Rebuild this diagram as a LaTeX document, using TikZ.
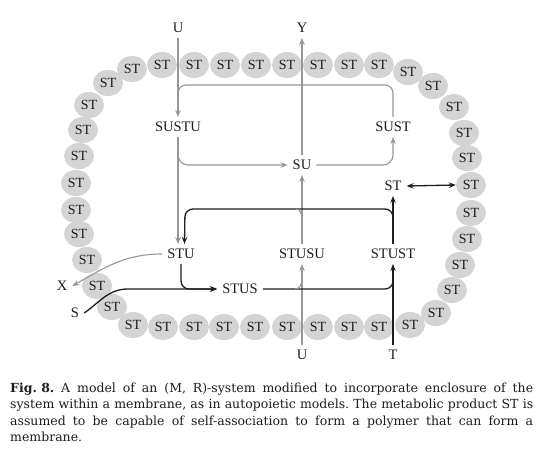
\documentclass[tikz,border=0pt]{standalone}
\usepackage{fontspec}
\setmainfont{DejaVu Serif}
\newfontfamily\labfamily{Liberation Serif}
\usetikzlibrary{arrows.meta,shapes.geometric}
\definecolor{lgray}{RGB}{150,150,150}
\definecolor{kline}{RGB}{30,30,30}
\definecolor{beadfill}{RGB}{212,212,212}
\definecolor{txt}{RGB}{30,28,30}
\newcommand\labfnt{\labfamily\fontsize{14.5pt}{17pt}\selectfont}
\tikzset{
  lab/.style={font=\labfnt, inner sep=5pt, text=txt},
  bead/.style={ellipse, fill=beadfill, minimum width=30pt, minimum height=26pt, inner sep=0pt, font=\labfamily\fontsize{14pt}{16pt}\selectfont, text=txt},
  gl/.style={draw=lgray, line width=1.1pt},
  kl/.style={draw=kline, line width=1.3pt},
  >={Stealth[length=7pt,width=5.5pt,inset=2.5pt]},
  captext/.style={anchor=base west, inner sep=0pt, font=\frenchspacing\fontsize{12.5pt}{16pt}\selectfont, text=txt}
}
\begin{document}
\begin{tikzpicture}[x=1pt,y=-1pt]
\useasboundingbox[fill=white] (0,0) rectangle (547,472);
% membrane beads
\foreach \x/\y [count=\i] in {162/65,194/65,225/65,256/65,287/65,318/65,349/65,379/65,
  408/72,433/86,454/107,464/133,467/158,471/185,471/213,467/239,460/265,452/290,436/313,410/325,
  379/327,349/327,318/327,287/327,255/327,224/327,194/327,163/327,
  133/325,112/307,97/286,87/260,79/234,76/210,76/183,79/156,83/130,89/105,108/83,132/69}
  \node[bead] (b\i) at (\x,\y) {ST};
% labels
\node[lab] (Utop) at (178,28) {U};
\node[lab] (Ytop) at (302,28) {Y};
\node[lab] (SUSTU) at (178,127) {SUSTU};
\node[lab] (SUST) at (393,127) {SUST};
\node[lab] (SU) at (302,165) {SU};
\node[lab] (STin) at (393,186) {ST};
\node[lab] (STU) at (181,254) {STU};
\node[lab] (STUSU) at (302,254) {STUSU};
\node[lab] (STUST) at (393,254) {STUST};
\node[lab] (STUS) at (240,289) {STUS};
\node[lab] (X) at (62,286) {X};
\node[lab] (S) at (75,313) {S};
\node[lab] (Ubot) at (302,355) {U};
\node[lab] (T) at (393,355) {T};
% helper coordinates
\coordinate (gTL) at (178,85);
\coordinate (gJoin) at (178,105);
\coordinate (kTL) at (185,209);
\coordinate (kJoin) at (393,272);
\coordinate (sJoin) at (128,289);
\coordinate (gt1) at (296,209);
\coordinate (gt2) at (302,220);
\coordinate (gb1) at (295,289);
\coordinate (gb2) at (302,280);
% gray connectors
\draw[gl,->] (Utop) -- (SUSTU);
\draw[gl,rounded corners=8pt] (SUST.north) |- (gTL) -- (gJoin);
\draw[gl,->] (SUSTU.south) -- (SUSTU.south |- STU.north);
\draw[gl,->,rounded corners=10pt] (SUSTU.south) |- (SU.west);
\draw[gl,->,rounded corners=10pt] (SU.east) -| (SUST.south);
\draw[gl,->] (SU.north) -- (Ytop.south);
\draw[gl,->] (STUSU.north) -- (SU.south);
\draw[gl,->] (Ubot.north) -- (STUSU.south);
\draw[gl,->] (STU.west) to[out=180,in=30] (X.east);
% black connectors
\draw[kl,->,rounded corners=8pt] (STUST.north) |- (kTL) -- ([xshift=3.5pt]STU.north);
\draw[kl,->] (STUST.north) -- (STin.south);
\draw[kl,->] (T.north) -- (STUST.south);
\draw[kl,rounded corners=8pt] (STUS.east) -| (kJoin);
\draw[kl,->,rounded corners=8pt] (STU.south) |- (STUS.west);
\draw[kl,->] (S.east) to[out=35,in=180] (sJoin) -- (STUS.west);
\draw[kl,<->] (STin.east) -- (b14.west);
% small gray junctions
\draw[gl] (gt1) to[out=0,in=90] (gt2);
\draw[gl] (gb1) to[out=0,in=-90] (gb2);
% caption
\node[captext] (c1) at (10,392) {\makebox[523pt][s]{\hbox{\textbf{Fig. 8.}} A model of an (M, R)-system modified to incorporate enclosure of the}};
\node[captext] (c2) at (10,408.5) {\makebox[523pt][s]{system within a membrane, as in autopoietic models. The metabolic product ST is}};
\node[captext] (c3) at (10,425) {\makebox[523pt][s]{assumed to be capable of self-association to form a polymer that can form a}};
\node[captext] (c4) at (10,441.5) {membrane.};
\end{tikzpicture}
\end{document}
